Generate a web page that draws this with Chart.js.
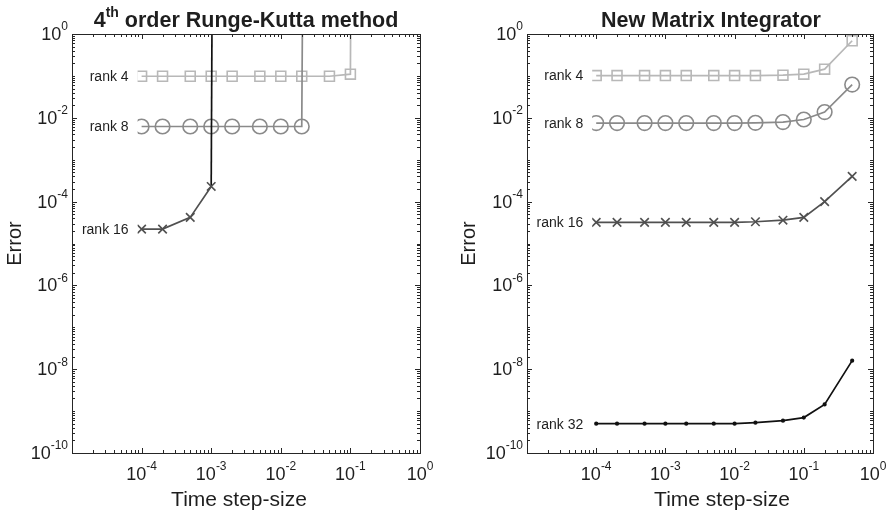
<!DOCTYPE html>
<html>
<head>
<meta charset="utf-8">
<script src="https://cdn.jsdelivr.net/npm/chart.js@4.4.1/dist/chart.umd.min.js"></script>
<style>
  body { margin: 0; background: #fff; }
  .wrap { display: flex; width: 892px; height: 515px; }
  .box { position: relative; width: 446px; height: 515px; }
</style>
</head>
<body>
<div class="wrap">
  <div class="box"><canvas id="rk"></canvas></div>
  <div class="box"><canvas id="mi"></canvas></div>
</div>
<script>
// time step sizes
const steps = [1e-4, 2e-4, 5e-4, 1e-3, 2e-3, 5e-3, 1e-2, 2e-2, 5e-2, 1e-1, 2e-1, 5e-1];
const BLOWUP = 1e100; // method diverged at this step size

// 4th order Runge-Kutta errors
const rkRank4 = [0.098, 0.098, 0.098, 0.098, 0.098, 0.098, 0.098, 0.098, 0.098, 0.11, BLOWUP];
const rkRank8 = [6.2e-3, 6.2e-3, 6.2e-3, 6.2e-3, 6.2e-3, 6.2e-3, 6.2e-3, 6.2e-3, BLOWUP];
const rkRank16 = [2.2e-5, 2.2e-5, 4.2e-5, 2.3e-4, BLOWUP];

// new matrix integrator errors
const miRank4 = [0.102, 0.102, 0.102, 0.102, 0.102, 0.102, 0.102, 0.102, 0.104, 0.11, 0.145, 0.69];
const miRank8 = [7.5e-3, 7.5e-3, 7.5e-3, 7.5e-3, 7.5e-3, 7.5e-3, 7.5e-3, 7.6e-3, 7.9e-3, 9.1e-3, 0.0137, 0.062];
const miRank16 = [3.2e-5, 3.2e-5, 3.2e-5, 3.2e-5, 3.2e-5, 3.2e-5, 3.2e-5, 3.3e-5, 3.6e-5, 4.2e-5, 1.0e-4, 4.0e-4];
const miRank32 = [5.0e-10, 5.0e-10, 5.0e-10, 5.0e-10, 5.0e-10, 5.0e-10, 5.0e-10, 5.3e-10, 5.9e-10, 7.0e-10, 1.44e-9, 1.6e-8];

const xExpLabels = [-4, -3, -2, -1, 0];
const yExpLabels = [0, -2, -4, -6, -8, -10];

const FONT = "'Liberation Sans', Arial, sans-serif";
const INK = "#1e1e1e";

const styles = {
  4: { color: "#b8b8b8", point: "rect", r: 7, order: 3 },
  8: { color: "#8a8a8a", point: "circle", r: 7.3, order: 2 },
  16: { color: "#505050", point: "crossRot", r: 6, order: 1 },
  32: { color: "#111111", point: "circle", r: 1.3, order: 0, fill: true }
};

function series(rank, vals, blackJump) {
  const s = styles[rank];
  return {
    label: "rank " + rank,
    data: vals.map((v, i) => ({ x: steps[i], y: v })),
    borderColor: s.color,
    borderWidth: 1.7,
    pointStyle: s.point,
    pointRadius: s.r,
    pointBorderWidth: 1.6,
    pointBorderColor: s.color,
    pointBackgroundColor: s.fill ? s.color : "rgba(0,0,0,0)",
    order: s.order,
    segment: blackJump ? { borderColor: c => c.p1.parsed.y > 1e10 ? "#111" : undefined } : undefined
  };
}

function drawPow(ctx, exp, x, y, align) {
  const base = "10", sup = String(exp);
  ctx.font = "18px " + FONT;
  const wb = ctx.measureText(base).width;
  ctx.font = "12px " + FONT;
  const ws = ctx.measureText(sup).width;
  const total = wb + ws;
  let x0 = align === "right" ? x - total : x - total / 2;
  ctx.textBaseline = "middle";
  ctx.textAlign = "left";
  ctx.font = "18px " + FONT;
  ctx.fillText(base, x0, y);
  ctx.font = "12px " + FONT;
  ctx.fillText(sup, x0 + wb, y - 8);
}

const decor = {
  id: "decor",
  afterDatasetsDraw(chart, args, opts) {
    const ctx = chart.ctx;
    const a = chart.chartArea;
    const xs = chart.scales.x, ys = chart.scales.y;
    ctx.save();

    // rank labels with white boxes over first markers
    ctx.font = "14px " + FONT;
    chart.data.datasets.forEach((ds, i) => {
      const p = chart.getDatasetMeta(i).data[0];
      const tw = ctx.measureText(ds.label).width;
      const right = p.x - 13;
      ctx.fillStyle = "#fff";
      ctx.fillRect(right - tw - 3, p.y - 9, tw + 12, 18);
      ctx.fillStyle = INK;
      ctx.textAlign = "right";
      ctx.textBaseline = "middle";
      ctx.fillText(ds.label, right, p.y + 1);
    });

    // frame and inner ticks
    ctx.strokeStyle = "#262626";
    ctx.lineWidth = 1;
    ctx.strokeRect(Math.round(a.left) + 0.5, Math.round(a.top) + 0.5, Math.round(a.width), Math.round(a.height));
    ctx.beginPath();
    for (let e = -5; e < 0; e++) {
      for (let m = 1; m < 10; m++) {
        const x = Math.round(xs.getPixelForValue(m * Math.pow(10, e))) + 0.5;
        const len = m === 1 ? 5 : 3;
        ctx.moveTo(x, a.bottom); ctx.lineTo(x, a.bottom - len);
        ctx.moveTo(x, a.top); ctx.lineTo(x, a.top + len);
      }
    }
    for (let e = -10; e < 0; e++) {
      for (let m = 1; m < 10; m++) {
        const y = Math.round(ys.getPixelForValue(m * Math.pow(10, e))) + 0.5;
        const len = m === 1 && e % 2 === 0 ? 5 : 3;
        ctx.moveTo(a.left, y); ctx.lineTo(a.left + len, y);
        ctx.moveTo(a.right, y); ctx.lineTo(a.right - len, y);
      }
    }
    ctx.stroke();

    // tick labels
    ctx.fillStyle = INK;
    xExpLabels.forEach(e => drawPow(ctx, e, xs.getPixelForValue(Math.pow(10, e)), a.bottom + 22, "center"));
    yExpLabels.forEach(e => drawPow(ctx, e, a.left - 4, ys.getPixelForValue(Math.pow(10, e)) + 1, "right"));

    // axis titles
    ctx.font = "21px " + FONT;
    ctx.textAlign = "center";
    ctx.textBaseline = "middle";
    ctx.fillText("Time step-size", opts.xTitleX, 500);
    ctx.save();
    ctx.translate(opts.yTitleX, (a.top + a.bottom) / 2);
    ctx.rotate(-Math.PI / 2);
    ctx.font = "20px " + FONT;
    ctx.fillText("Error", 0, 0);
    ctx.restore();

    // plot title, with optional superscript piece
    ctx.textAlign = "left";
    ctx.textBaseline = "alphabetic";
    const parts = opts.title;
    const fs = p => "bold " + (p.sup ? 14 : 21.5) + "px " + FONT;
    let w = 0;
    parts.forEach(p => { ctx.font = fs(p); w += ctx.measureText(p.t).width; });
    let x = opts.titleX - w / 2;
    parts.forEach(p => {
      ctx.font = fs(p);
      ctx.fillText(p.t, x, p.sup ? 17 : 27);
      x += ctx.measureText(p.t).width;
    });
    ctx.restore();
  }
};

function makeChart(id, datasets, pad, decorOpts) {
  return new Chart(document.getElementById(id), {
    type: "line",
    data: { datasets },
    options: {
      responsive: false,
      animation: false,
      layout: { padding: pad },
      scales: {
        x: { type: "logarithmic", min: 1e-5, max: 1, display: false },
        y: { type: "logarithmic", min: 1e-10, max: 1, display: false }
      },
      plugins: { legend: { display: false }, tooltip: { enabled: false }, decor: decorOpts }
    },
    plugins: [decor]
  });
}

for (const c of document.querySelectorAll("canvas")) { c.width = 446; c.height = 515; }

makeChart("rk", [
  series(4, rkRank4),
  series(8, rkRank8),
  series(16, rkRank16, true)
], { left: 72, right: 26, top: 34, bottom: 62 }, {
  title: [{ t: "4" }, { t: "th", sup: true }, { t: " order Runge-Kutta method" }],
  titleX: 246, xTitleX: 239, yTitleX: 15
});

makeChart("mi", [
  series(4, miRank4),
  series(8, miRank8),
  series(16, miRank16),
  series(32, miRank32)
], { left: 81, right: 19, top: 34, bottom: 62 }, {
  title: [{ t: "New Matrix Integrator" }],
  titleX: 265, xTitleX: 276, yTitleX: 23
});
</script>
</body>
</html>
